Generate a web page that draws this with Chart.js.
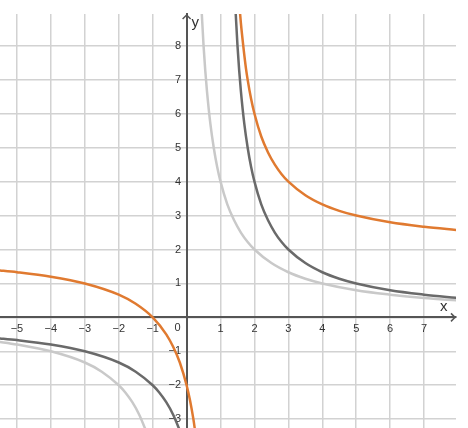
<!DOCTYPE html>
<html>
<head>
<meta charset="utf-8">
<script src="https://cdn.jsdelivr.net/npm/chart.js@4"></script>
<style>
  html, body { margin: 0; padding: 0; background: #fff; }
  #wrap { width: 468px; height: 428px; }
</style>
</head>
<body>
<div id="wrap"><canvas id="chart-hyperbola" width="468" height="428"></canvas></div>
<script>
// tick labels
const xTicks = [-5, -4, -3, -2, -1, 0, 1, 2, 3, 4, 5, 6, 7];
const yTicks = [-3, -2, -1, 0, 1, 2, 3, 4, 5, 6, 7, 8];

// light gray curve
const lightRightX = [0.44, 0.5, 0.55, 0.6, 0.7, 0.8, 0.9, 1, 1.2, 1.4, 1.6, 1.8, 2, 2.5, 3, 3.5, 4, 5, 6, 7, 8];
const lightRightY = [9.09, 8, 7.27, 6.67, 5.71, 5, 4.44, 4, 3.33, 2.86, 2.5, 2.22, 2, 1.6, 1.33, 1.14, 1, 0.8, 0.67, 0.57, 0.5];
const lightLeftX = [-5.6, -5, -4, -3, -2.5, -2, -1.8, -1.6, -1.4, -1.2];
const lightLeftY = [-0.71, -0.8, -1, -1.33, -1.6, -2, -2.22, -2.5, -2.86, -3.33];

// dark gray curve
const darkRightX = [1.44, 1.5, 1.55, 1.6, 1.7, 1.8, 1.9, 2, 2.2, 2.4, 2.6, 2.8, 3, 3.5, 4, 4.5, 5, 6, 7, 8];
const darkRightY = [9.09, 8, 7.27, 6.67, 5.71, 5, 4.44, 4, 3.33, 2.86, 2.5, 2.22, 2, 1.6, 1.33, 1.14, 1, 0.8, 0.67, 0.57];
const darkLeftX = [-5.6, -5, -4, -3, -2, -1.5, -1, -0.8, -0.6, -0.4, -0.2];
const darkLeftY = [-0.61, -0.67, -0.8, -1, -1.33, -1.6, -2, -2.22, -2.5, -2.86, -3.33];

// orange curve
const orangeRightX = [1.56, 1.6, 1.67, 1.75, 1.8, 1.9, 2, 2.2, 2.4, 2.6, 2.8, 3, 3.5, 4, 4.5, 5, 6, 7, 8];
const orangeRightY = [9.14, 8.67, 8, 7.33, 7, 6.44, 6, 5.33, 4.86, 4.5, 4.22, 4, 3.6, 3.33, 3.14, 3, 2.8, 2.67, 2.57];
const orangeLeftX = [-5.6, -5, -4, -3, -2, -1.5, -1, -0.6, -0.4, -0.2, 0, 0.1, 0.2, 0.3];
const orangeLeftY = [1.39, 1.33, 1.2, 1, 0.67, 0.4, 0, -0.5, -0.86, -1.33, -2, -2.44, -3, -3.71];

const LIGHT = "#c9c9c9";
const DARK = "#6a6a6a";
const ORANGE = "#e07a30";

function pts(xs, ys) {
  return xs.map(function (x, i) { return { x: x, y: ys[i] }; });
}

function curve(xs, ys, color, order) {
  return {
    data: pts(xs, ys),
    borderColor: color,
    borderWidth: 2.5,
    pointRadius: 0,
    showLine: true,
    fill: false,
    cubicInterpolationMode: "monotone",
    order: order,
  };
}

function fmt(v) {
  if (v === 0) return "";
  return v < 0 ? "\u2212" + Math.abs(v) : String(v);
}

// axes sit inside the plot, so they take no room in the layout
function noRoom(scale) {
  if (scale.isHorizontal()) scale.height = 0; else scale.width = 0;
  scale.paddingLeft = 0;
  scale.paddingRight = 0;
  scale.paddingTop = 0;
  scale.paddingBottom = 0;
}

// arrows, axis names and the origin label
const axisExtras = {
  id: "axisExtras",
  afterDatasetsDraw(chart) {
    const ctx = chart.ctx;
    const xs = chart.scales.x;
    const ys = chart.scales.y;
    const ox = xs.getPixelForValue(0);
    const oy = ys.getPixelForValue(0);
    const top = chart.chartArea.top;
    const right = chart.chartArea.right;
    ctx.save();
    ctx.strokeStyle = "#555";
    ctx.lineWidth = 1.5;
    ctx.beginPath();
    ctx.moveTo(ox - 4, top + 5);
    ctx.lineTo(ox, top + 1);
    ctx.lineTo(ox + 4, top + 5);
    ctx.moveTo(right - 5, oy - 4);
    ctx.lineTo(right - 1, oy);
    ctx.lineTo(right - 5, oy + 4);
    ctx.stroke();
    ctx.fillStyle = "#333";
    ctx.font = "15px 'Liberation Sans', Arial, sans-serif";
    ctx.textAlign = "left";
    ctx.textBaseline = "alphabetic";
    ctx.fillText("y", ox + 5, top + 13);
    ctx.fillText("x", right - 16, oy - 6);
    ctx.font = "11px 'Liberation Sans', Arial, sans-serif";
    ctx.textAlign = "center";
    ctx.textBaseline = "middle";
    ctx.fillText("0", ox - 9, oy + 11);
    ctx.restore();
  },
};

const data = {
  datasets: [
    curve(lightRightX, lightRightY, LIGHT, 3),
    curve(lightLeftX, lightLeftY, LIGHT, 3),
    curve(darkRightX, darkRightY, DARK, 2),
    curve(darkLeftX, darkLeftY, DARK, 2),
    curve(orangeRightX, orangeRightY, ORANGE, 1),
    curve(orangeLeftX, orangeLeftY, ORANGE, 1),
  ],
};

const tickFont = { family: "'Liberation Sans', Arial, sans-serif", size: 11 };

const config = {
  type: "scatter",
  data: data,
  options: {
    responsive: false,
    animation: false,
    layout: { padding: { top: 14, right: 12, left: 0, bottom: 0 } },
    plugins: { legend: { display: false }, tooltip: { enabled: false } },
    scales: {
      x: {
        type: "linear",
        min: -5.5,
        max: 7.94,
        position: { y: 0 },
        afterBuildTicks: function (scale) {
          scale.ticks = xTicks.map(function (v) { return { value: v }; });
        },
        afterFit: noRoom,
        grid: { color: "#d2d2d2", lineWidth: 1.5, drawTicks: false },
        border: { color: "#555", width: 2 },
        ticks: { callback: fmt, color: "#333", font: tickFont, padding: 5, maxRotation: 0, autoSkip: false },
      },
      y: {
        type: "linear",
        min: -3.26,
        max: 8.94,
        position: { x: 0 },
        afterBuildTicks: function (scale) {
          scale.ticks = yTicks.map(function (v) { return { value: v }; });
        },
        afterFit: noRoom,
        grid: { color: "#d2d2d2", lineWidth: 1.5, drawTicks: false },
        border: { color: "#555", width: 2 },
        ticks: {
          // label sits flush on the axis, so leave a small gap after it
          callback: function (v) { const s = fmt(v); return s ? s + "\u2002" : s; },
          color: "#333", font: tickFont, autoSkip: false,
        },
      },
    },
  },
  plugins: [axisExtras],
};

new Chart(document.getElementById("chart-hyperbola"), config);
</script>
</body>
</html>
